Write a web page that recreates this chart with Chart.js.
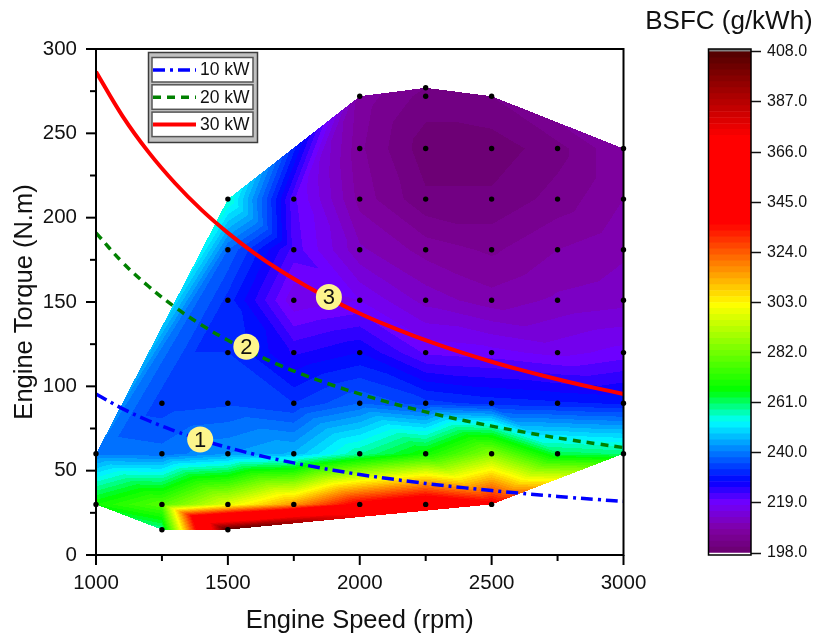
<!DOCTYPE html>
<html>
<head>
    <title>BSFC Map</title>
    <script src="https://cdn.jsdelivr.net/npm/chart.js"></script>
    <style>
        html, body { margin: 0; padding: 0; background: #fff; }
        #wrap { position: relative; width: 814px; height: 638px; overflow: hidden; }
        canvas { position: absolute; top: 0; }
    </style>
</head>
<body>
<div id="wrap">
    <canvas id="chart" width="814" height="638" style="left:0"></canvas>
    <canvas id="scale" width="172" height="638" style="left:642px"></canvas>
</div>
<script>
    // measured points, one row per torque level, null where the engine was not run
    var speeds = [1000, 1250, 1500, 1750, 2000, 2250, 2500, 2750, 3000];
    var torques = [15, 30, 60, 90, 120, 151, 181, 211, 241, 272, 277];
    var bsfc15  = [null, 258, 408, null, null, null, null, null, null];
    var bsfc30  = [268, 278, 298, 316, 340, 350, 340, null, null];
    var bsfc60  = [240, 239, 243, 246, 258, 268, 285, 262, 260];
    var bsfc90  = [null, 234, 235, 233, 238, 234, 232, 231, 230];
    var bsfc120 = [null, null, 233, 225, 228, 220, 219, 217, 219];
    var bsfc151 = [null, null, 232, 216, 218, 212, 209, 211, 212];
    var bsfc181 = [null, null, 238, 222, 211, 207, 205, 208, 210];
    var bsfc211 = [null, null, 256, 221, 207, 201, 201, 204, 208];
    var bsfc241 = [null, null, null, null, 206, 199, 199, 202, 208];
    var bsfc272 = [null, null, null, null, 207, 202, 203, null, null];
    var bsfc277 = [null, null, null, null, null, 203, null, null, null];
    var bsfcRows = [bsfc15, bsfc30, bsfc60, bsfc90, bsfc120, bsfc151, bsfc181, bsfc211, bsfc241, bsfc272, bsfc277];

    // constant power curves
    var curveSpeeds = [1000, 1100, 1200, 1300, 1400, 1500, 1600, 1700, 1800, 1900, 2000, 2100, 2200, 2300, 2400, 2500, 2600, 2700, 2800, 2900, 3000];
    var torque10kW = [95.5, 86.8, 79.6, 73.5, 68.2, 63.7, 59.7, 56.2, 53.1, 50.3, 47.7, 45.5, 43.4, 41.5, 39.8, 38.2, 36.7, 35.4, 34.1, 32.9, 31.8];
    var torque20kW = [191, 173.6, 159.2, 146.9, 136.4, 127.3, 119.4, 112.3, 106.1, 100.5, 95.5, 90.9, 86.8, 83, 79.6, 76.4, 73.5, 70.7, 68.2, 65.9, 63.7];
    var torque30kW = [286.5, 260.4, 238.7, 220.4, 204.6, 191, 179, 168.5, 159.2, 150.8, 143.2, 136.4, 130.2, 124.6, 119.4, 114.6, 110.2, 106.1, 102.3, 98.8, 95.5];

    // numbered markers
    var markerNames = ['1', '2', '3'];
    var markerSpeeds = [1395, 1570, 1883];
    var markerTorques = [68.5, 123.5, 153];

    // colour scale
    var scaleTicks = [198, 219, 240, 261, 282, 303, 324, 345, 366, 387, 408];
    var stopValues = [198, 208, 219, 228, 240, 253, 266, 302, 336, 372, 408];
    var stopColors = [[106, 0, 110], [128, 0, 165], [112, 0, 255], [0, 0, 255], [0, 120, 255], [0, 255, 255], [0, 255, 0], [255, 255, 0], [255, 0, 0], [255, 0, 0], [80, 0, 0]];
    var levelCount = 84;

    var FONT = '"Liberation Sans", Arial, sans-serif';
    var levelSize = (408 - 198) / levelCount;

    function colorAt(v) {
        var i = 0;
        while (i < stopValues.length - 2 && v > stopValues[i + 1]) i++;
        var t = (v - stopValues[i]) / (stopValues[i + 1] - stopValues[i]);
        t = Math.max(0, Math.min(1, t));
        return stopColors[i].map(function (c, k) { return Math.round(c + (stopColors[i + 1][k] - c) * t); });
    }
    function levelColor(v) {
        var level = Math.max(0, Math.min(levelCount - 1, Math.floor((v - 198) / levelSize)));
        return colorAt(198 + (level + 0.5) * levelSize);
    }

    var meshPoints = [];
    torques.forEach(function (t, r) {
        speeds.forEach(function (s, c) {
            if (bsfcRows[r][c] !== null) meshPoints.push({ x: s, y: t, v: bsfcRows[r][c] });
        });
    });

    // Bowyer-Watson, sheared a bit so that every grid cell is split the same way
    function triangulate(points) {
        var pts = points.map(function (p) {
            var v = p.y / 30 * 51;
            return { u: p.x / 250 * 66 + 0.1 * v, v: v };
        });
        var n = pts.length;
        pts.push({ u: -1e6, v: -1e6 }, { u: 1e6, v: -1e6 }, { u: 0, v: 1e6 });
        function circle(a, b, c) {
            var A = pts[a], B = pts[b], C = pts[c];
            var d = 2 * (A.u * (B.v - C.v) + B.u * (C.v - A.v) + C.u * (A.v - B.v));
            var a2 = A.u * A.u + A.v * A.v, b2 = B.u * B.u + B.v * B.v, c2 = C.u * C.u + C.v * C.v;
            var cu = (a2 * (B.v - C.v) + b2 * (C.v - A.v) + c2 * (A.v - B.v)) / d;
            var cv = (a2 * (C.u - B.u) + b2 * (A.u - C.u) + c2 * (B.u - A.u)) / d;
            return { a: a, b: b, c: c, cu: cu, cv: cv, r2: (A.u - cu) * (A.u - cu) + (A.v - cv) * (A.v - cv) };
        }
        var tris = [circle(n, n + 1, n + 2)];
        for (var i = 0; i < n; i++) {
            var p = pts[i], edges = {}, keep = [];
            tris.forEach(function (t) {
                var dist = (p.u - t.cu) * (p.u - t.cu) + (p.v - t.cv) * (p.v - t.cv);
                if (dist < t.r2) {
                    [[t.a, t.b], [t.b, t.c], [t.c, t.a]].forEach(function (e) {
                        var key = Math.min(e[0], e[1]) + '_' + Math.max(e[0], e[1]);
                        edges[key] = edges[key] === undefined ? e : null;
                    });
                } else keep.push(t);
            });
            Object.keys(edges).forEach(function (key) {
                if (edges[key]) keep.push(circle(edges[key][0], edges[key][1], i));
            });
            tris = keep;
        }
        return tris.filter(function (t) { return t.a < n && t.b < n && t.c < n; });
    }
    var meshTriangles = triangulate(meshPoints);

    var meshPlugin = {
        id: 'mesh',
        beforeDatasetsDraw: function (chart) {
            var sx = chart.scales.x, sy = chart.scales.y, area = chart.chartArea;
            var w = Math.ceil(area.right - area.left) + 1, h = Math.ceil(area.bottom - area.top) + 1;
            var x0 = Math.floor(area.left), y0 = Math.floor(area.top);
            var off = document.createElement('canvas');
            off.width = w; off.height = h;
            var octx = off.getContext('2d');
            var img = octx.createImageData(w, h);
            meshTriangles.forEach(function (t) {
                var A = meshPoints[t.a], B = meshPoints[t.b], C = meshPoints[t.c];
                var ax = sx.getPixelForValue(A.x), ay = sy.getPixelForValue(A.y);
                var bx = sx.getPixelForValue(B.x), by = sy.getPixelForValue(B.y);
                var cx = sx.getPixelForValue(C.x), cy = sy.getPixelForValue(C.y);
                var d = (by - cy) * (ax - cx) + (cx - bx) * (ay - cy);
                var left = Math.floor(Math.min(ax, bx, cx)), right = Math.ceil(Math.max(ax, bx, cx));
                var top = Math.floor(Math.min(ay, by, cy)), bottom = Math.ceil(Math.max(ay, by, cy));
                for (var py = top; py <= bottom; py++) {
                    for (var px = left; px <= right; px++) {
                        var l1 = ((by - cy) * (px + 0.5 - cx) + (cx - bx) * (py + 0.5 - cy)) / d;
                        var l2 = ((cy - ay) * (px + 0.5 - cx) + (ax - cx) * (py + 0.5 - cy)) / d;
                        var l3 = 1 - l1 - l2;
                        if (l1 < -1e-6 || l2 < -1e-6 || l3 < -1e-6) continue;
                        var ix = px - x0, iy = py - y0;
                        if (ix < 0 || iy < 0 || ix >= w || iy >= h) continue;
                        var col = levelColor(l1 * A.v + l2 * B.v + l3 * C.v);
                        var o = (iy * w + ix) * 4;
                        img.data[o] = col[0]; img.data[o + 1] = col[1]; img.data[o + 2] = col[2]; img.data[o + 3] = 255;
                    }
                }
            });
            octx.putImageData(img, 0, 0);
            chart.ctx.drawImage(off, x0, y0);
        }
    };

    // frame, ticks, legend box and marker numbers
    var framePlugin = {
        id: 'frame',
        afterDraw: function (chart) {
            var ctx = chart.ctx, a = chart.chartArea, sx = chart.scales.x, sy = chart.scales.y;
            ctx.save();
            ctx.strokeStyle = '#000';
            ctx.lineWidth = 2;
            ctx.strokeRect(a.left, a.top, a.right - a.left, a.bottom - a.top);
            sx.ticks.forEach(function (t) {
                var px = sx.getPixelForValue(t.value), len = t.value % 500 === 0 ? 10 : 6;
                ctx.beginPath(); ctx.moveTo(px, a.bottom); ctx.lineTo(px, a.bottom + len); ctx.stroke();
            });
            sy.ticks.forEach(function (t) {
                var py = sy.getPixelForValue(t.value), len = t.value % 50 === 0 ? 10 : 6;
                ctx.beginPath(); ctx.moveTo(a.left, py); ctx.lineTo(a.left - len, py); ctx.stroke();
            });

            // legend
            ctx.fillStyle = '#c0c0c0';
            ctx.strokeStyle = '#3c3c3c';
            ctx.lineWidth = 1.5;
            ctx.fillRect(148.5, 52.5, 109, 90);
            ctx.strokeRect(148.5, 52.5, 109, 90);
            [2, 3, 4].forEach(function (idx, row) {
                var ds = chart.data.datasets[idx], top = 57.5 + row * 27.3;
                ctx.fillStyle = '#fff';
                ctx.strokeStyle = '#555';
                ctx.lineWidth = 1.5;
                ctx.fillRect(152, top, 101, 24.5);
                ctx.strokeRect(152, top, 101, 24.5);
                ctx.strokeStyle = ds.borderColor;
                ctx.lineWidth = ds.borderWidth;
                ctx.setLineDash(ds.borderDash || []);
                ctx.beginPath(); ctx.moveTo(153, top + 12.5); ctx.lineTo(196, top + 12.5); ctx.stroke();
                ctx.setLineDash([]);
                ctx.fillStyle = '#111';
                ctx.font = '17.5px ' + FONT;
                ctx.textAlign = 'left';
                ctx.textBaseline = 'middle';
                ctx.fillText(ds.label, 200, top + 13);
            });

            // marker numbers
            ctx.fillStyle = '#111';
            ctx.font = '22px ' + FONT;
            ctx.textAlign = 'center';
            ctx.textBaseline = 'middle';
            chart.getDatasetMeta(0).data.forEach(function (el, i) {
                ctx.fillText(markerNames[i], el.x, el.y + 1);
            });
            ctx.restore();
        }
    };

    var chart = new Chart(document.getElementById('chart').getContext('2d'), {
        type: 'scatter',
        data: {
            datasets: [{
                label: 'Markers',
                data: markerSpeeds.map(function (s, i) { return { x: s, y: markerTorques[i] }; }),
                backgroundColor: '#fdf58c',
                borderWidth: 0,
                pointRadius: 13,
                clip: false
            }, {
                label: 'Test points',
                data: meshPoints.map(function (p) { return { x: p.x, y: p.y }; }),
                backgroundColor: '#000',
                borderWidth: 0,
                pointRadius: 2.7,
                clip: false
            }, {
                label: '10 kW',
                data: curveSpeeds.map(function (s, i) { return { x: s, y: torque10kW[i] }; }),
                showLine: true,
                borderColor: '#0000ff',
                borderWidth: 3.5,
                borderDash: [12, 5, 3, 5],
                pointRadius: 0,
                tension: 0.4
            }, {
                label: '20 kW',
                data: curveSpeeds.map(function (s, i) { return { x: s, y: torque20kW[i] }; }),
                showLine: true,
                borderColor: '#008000',
                borderWidth: 3.5,
                borderDash: [8, 6],
                pointRadius: 0,
                tension: 0.4
            }, {
                label: '30 kW',
                data: curveSpeeds.map(function (s, i) { return { x: s, y: torque30kW[i] }; }),
                showLine: true,
                borderColor: '#ff0000',
                borderWidth: 4,
                pointRadius: 0,
                tension: 0.4
            }]
        },
        options: {
            responsive: false,
            animation: false,
            layout: { padding: { left: 10, right: 190.5, top: 49, bottom: 2 } },
            plugins: { legend: { display: false }, tooltip: { enabled: false } },
            scales: {
                x: {
                    type: 'linear',
                    min: 1000,
                    max: 3000,
                    afterFit: function (s) { s.height = 81; s.paddingLeft = 0; s.paddingRight = 0; },
                    border: { display: false },
                    grid: { drawOnChartArea: false, tickLength: 10, tickColor: 'transparent' },
                    ticks: {
                        stepSize: 250,
                        autoSkip: false,
                        maxRotation: 0,
                        padding: 6,
                        color: '#111',
                        font: { size: 20.5, family: FONT },
                        callback: function (v) { return v % 500 === 0 ? v : ''; }
                    },
                    title: { display: true, text: 'Engine Speed (rpm)', color: '#111', padding: 0, font: { size: 25.5, family: FONT } }
                },
                y: {
                    min: 0,
                    max: 300,
                    afterFit: function (s) { s.width = 86; s.paddingTop = 0; s.paddingBottom = 0; },
                    border: { display: false },
                    grid: { drawOnChartArea: false, tickLength: 10, tickColor: 'transparent' },
                    ticks: {
                        stepSize: 25,
                        autoSkip: false,
                        padding: 9,
                        color: '#111',
                        font: { size: 20.5, family: FONT },
                        callback: function (v) { return v % 50 === 0 ? v : ''; }
                    },
                    title: { display: true, text: 'Engine Torque (N.m)', color: '#111', padding: 0, font: { size: 25.5, family: FONT } }
                }
            }
        },
        plugins: [meshPlugin, framePlugin]
    });

    // colour bar is its own small chart
    var bands = [{ data: [[197.2, 198]], backgroundColor: '#fff' }];
    for (var i = 0; i < levelCount; i++) {
        var lo = 198 + i * levelSize;
        var c = colorAt(lo + levelSize / 2);
        bands.push({ data: [[lo, lo + levelSize]], backgroundColor: 'rgb(' + c.join(',') + ')' });
    }
    bands.push({ data: [[408, 409.2]], backgroundColor: '#808080' });

    var barFrame = {
        id: 'barFrame',
        afterDraw: function (ch) {
            var a = ch.chartArea, ctx = ch.ctx;
            ctx.save();
            ctx.strokeStyle = '#000';
            ctx.lineWidth = 1.5;
            ctx.strokeRect(a.left, a.top, a.right - a.left, a.bottom - a.top);
            ctx.fillStyle = '#111';
            ctx.font = '26px ' + FONT;
            ctx.textAlign = 'center';
            ctx.fillText('BSFC (g/kWh)', 87, 29);
            ctx.restore();
        }
    };

    var scaleChart = new Chart(document.getElementById('scale').getContext('2d'), {
        type: 'bar',
        data: { labels: ['BSFC'], datasets: bands },
        options: {
            responsive: false,
            animation: false,
            datasets: { bar: { grouped: false, barPercentage: 1, categoryPercentage: 1, borderWidth: 0 } },
            layout: { padding: { left: 66.5, right: 0, top: 49, bottom: 83 } },
            plugins: { legend: { display: false }, tooltip: { enabled: false } },
            scales: {
                x: { display: false },
                y: {
                    position: 'right',
                    min: 197.2,
                    max: 409.2,
                    afterBuildTicks: function (s) { s.ticks = scaleTicks.map(function (v) { return { value: v }; }); },
                    afterFit: function (s) { s.width = 63; s.paddingTop = 0; s.paddingBottom = 0; },
                    border: { display: false },
                    grid: { drawOnChartArea: false, tickLength: 10, tickColor: '#111', tickWidth: 1.5 },
                    ticks: {
                        autoSkip: false,
                        padding: 6,
                        color: '#111',
                        font: { size: 16, family: FONT },
                        callback: function (v) { return v.toFixed(1); }
                    }
                }
            }
        },
        plugins: [barFrame]
    });
</script>
</body>
</html>
